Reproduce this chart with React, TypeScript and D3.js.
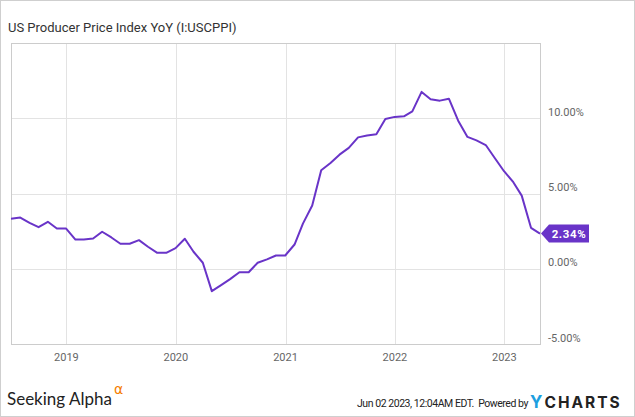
import React from "react";
import * as d3 from "d3";

const startMonth = "2018-06";
const values: number[] = [
  3.32, 3.40, 3.05, 2.76, 3.12, 2.67, 2.67,
  1.94, 1.94, 2.01, 2.46, 2.08, 1.66, 1.66, 1.90, 1.46, 1.06, 1.06, 1.37,
  1.99, 1.13, 0.40, -1.49, -1.09, -0.69, -0.23, -0.23, 0.40, 0.62, 0.88, 0.88,
  1.61, 3.00, 4.20, 6.55, 7.03, 7.58, 8.03, 8.73, 8.85, 8.93, 9.95, 10.09,
  10.13, 10.46, 11.75, 11.26, 11.17, 11.30, 9.84, 8.76, 8.53, 8.22, 7.36, 6.48,
  5.75, 4.86, 2.72, 2.34,
];
const yTicks = [-5, 0, 5, 10];
const xTickYears = [2019, 2020, 2021, 2022, 2023];
const title = "US Producer Price Index YoY (I:USCPPI)";
const lastLabel = "2.34%";

const W = 635;
const H = 417;
const L = 11, R = 540, T = 43, B = 344;
const PURPLE = "#6934c8";

export default function App() {
  const [sy, sm] = startMonth.split("-").map(Number);
  // month-end dates
  const dates = values.map((_, i) => new Date(sy, sm - 1 + i + 1, 0));
  const data = values.map((v, i) => ({ d: dates[i], v }));
  const x = d3.scaleTime().domain([dates[0], dates[dates.length - 1]]).range([L, R]);
  const y = d3.scaleLinear().domain([-5, 15]).range([B, T]);
  const line = d3.line<{ d: Date; v: number }>().x((p) => x(p.d)).y((p) => y(p.v));
  const last = data[data.length - 1];
  const ly = y(last.v);
  const lx = x(last.d);
  const font = "Roboto, 'Liberation Sans', Arial, sans-serif";

  return (
    <svg width={W} height={H} style={{ position: "absolute", left: 0, top: 0, background: "#fff" }} fontFamily={font}>
      <rect x={0.5} y={0.5} width={W - 1} height={H - 1} fill="#fff" stroke="#cfcfcf" />
      <text x={8} y={32} fontSize={13} fill="#333">{title}</text>
      {/* grid */}
      {yTicks.map((t) => (
        <line key={"gy" + t} x1={L} x2={R} y1={Math.round(y(t)) + 0.5} y2={Math.round(y(t)) + 0.5} stroke="#e3e3e3" />
      ))}
      {xTickYears.map((yr) => {
        const gx = Math.round(x(new Date(yr, 0, 1))) + 0.5;
        return <line key={"gx" + yr} x1={gx} x2={gx} y1={T} y2={B} stroke="#e3e3e3" />;
      })}
      {/* frame */}
      <rect x={L + 0.5} y={T + 0.5} width={R - L} height={B - T} fill="none" stroke="#cccccc" />
      {/* y labels */}
      {yTicks.map((t) => (
        <text key={"ly" + t} x={548} y={y(t) - 2.5} fontSize={11} fill="#666">
          {t.toFixed(2) + "%"}
        </text>
      ))}
      {/* x labels */}
      {xTickYears.map((yr) => (
        <text key={"lx" + yr} x={x(new Date(yr, 0, 1))} y={361} fontSize={11} fill="#666" textAnchor="middle">
          {String(yr)}
        </text>
      ))}
      {/* line */}
      <path d={line(data) || ""} fill="none" stroke={PURPLE} strokeWidth={2} strokeLinejoin="round" />
      {/* last value badge */}
      <path
        d={`M${lx + 1},${ly} L${lx + 9},${ly - 9} L${lx + 49},${ly - 9} L${lx + 49},${ly + 9} L${lx + 9},${ly + 9} Z`}
        fill={PURPLE}
      />
      <text x={lx + 29} y={ly + 4} fontSize={11.5} fontWeight={700} fill="#fff" textAnchor="middle" letterSpacing={0.6}>
        {lastLabel}
      </text>
      {/* footer */}
      <text x={7} y={405} fontSize={17} fill="#222" fontFamily="Lato, 'Open Sans', sans-serif">
        Seeking Alpha
        <tspan dx={2} dy={-11} fontSize={14} fill="#f57c00" fontFamily="'DejaVu Sans', sans-serif">α</tspan>
      </text>
      <text x={357} y={407} fontSize={10.5} fill="#222" letterSpacing={-0.45}>
        Jun 02 2023, 12:04AM EDT.{"\u00a0\u00a0"}Powered by
      </text>
      <text x={530} y={408} fontSize={15.5} fontWeight={700} fill="#222" fontFamily="Inter, Roboto, sans-serif" letterSpacing={2}>
        <tspan fill="#1c9fe0" fontSize={17}>Y</tspan>CHARTS
      </text>
    </svg>
  );
}
